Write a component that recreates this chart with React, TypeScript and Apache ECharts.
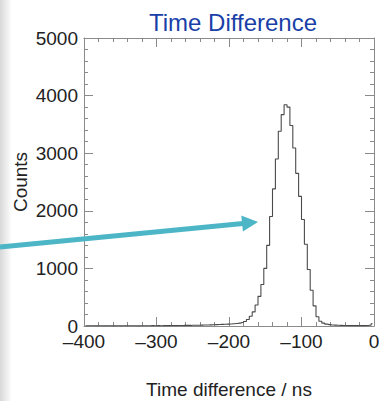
import React, { useEffect, useRef } from "react";
import * as echarts from "echarts";

const titleText = "Time Difference";
const xName = "Time difference / ns";
const yName = "Counts";
const xMin = -400;
const xMax = 0;
const xStep = 100;
const yMin = 0;
const yMax = 5000;
const yStep = 1000;
const binStart = -400;
const binWidth = 4;
const counts = [
  3, 2, 4, 3, 2, 4, 3, 3, 4, 2,
  3, 4, 3, 5, 3, 4, 4, 5, 3, 4,
  5, 4, 5, 6, 5, 6, 5, 7, 6, 7,
  8, 7, 9, 8, 10, 11, 10, 12, 13, 14,
  15, 17, 18, 20, 22, 24, 26,
  28, 30, 33, 36, 40, 44, 50, 60, 78, 112,
  168, 245, 365, 515, 720, 1000, 1400, 1900, 2380, 2900,
  3380, 3670, 3840, 3800, 3480, 3090, 2650, 2250, 1850, 1420,
  980, 620, 350, 160, 82, 50, 33, 24, 18, 15,
  12, 10, 9, 8, 7, 7, 6, 6, 6, 7,
  8, 12, 40,
];

const FONT = "'Liberation Sans', Arial, Helvetica, sans-serif";

export default function App() {
  const ref = useRef<HTMLDivElement>(null);
  useEffect(() => {
    document.body.style.margin = "0";
    const chart = echarts.init(ref.current!, null, { renderer: "svg" });
    const data = counts.map((c, i) => [binStart + binWidth * (i + 0.5), c]);
    const fmt = (v: number) => String(v).replace("-", "\u2013");
    const frame = "#8a8a8a";
    const tickCommon = {
      axisLine: { show: true, onZero: false, lineStyle: { color: frame, width: 1 } },
      axisTick: { show: true, inside: true, length: 9, lineStyle: { color: frame } },
      minorTick: { show: true, splitNumber: 5, length: 4, lineStyle: { color: frame } },
      splitLine: { show: false },
      minorSplitLine: { show: false },
    };
    chart.setOption({
      animation: false,
      backgroundColor: "#ffffff",
      title: {
        text: titleText,
        left: 228,
        top: 5,
        textAlign: "center",
        textStyle: { color: "#1a3fa8", fontSize: 24, fontWeight: "normal", fontFamily: FONT },
      },
      grid: { left: 84, right: 6, top: 38, bottom: 75, containLabel: false, outerBoundsMode: "none" },
      xAxis: [
        {
          type: "value",
          min: xMin,
          max: xMax,
          interval: xStep,
          position: "bottom",
          name: xName,
          nameLocation: "middle",
          nameGap: 54,
          nameMoveOverlap: false,
          nameTextStyle: { color: "#222", fontSize: 19, fontFamily: FONT },
          axisLabel: { color: "#222", fontSize: 19, lineHeight: 12, fontFamily: FONT, margin: 9, formatter: fmt },
          ...tickCommon,
        },
        {
          type: "value",
          min: xMin,
          max: xMax,
          interval: xStep,
          position: "top",
          axisLabel: { show: false },
          ...tickCommon,
        },
      ],
      yAxis: [
        {
          type: "value",
          min: yMin,
          max: yMax,
          interval: yStep,
          position: "left",
          name: yName,
          nameLocation: "middle",
          nameGap: 54,
          nameMoveOverlap: false,
          nameTextStyle: { color: "#222", fontSize: 19, fontFamily: FONT },
          axisLabel: { color: "#222", fontSize: 19, lineHeight: 12, fontFamily: FONT, margin: 6, formatter: (v: number) => String(v) },
          ...tickCommon,
        },
        {
          type: "value",
          min: yMin,
          max: yMax,
          interval: yStep,
          position: "right",
          axisLabel: { show: false },
          ...tickCommon,
        },
      ],
      series: [
        {
          type: "line",
          data,
          step: "middle",
          showSymbol: false,
          symbol: "none",
          lineStyle: { color: "#4a4a4a", width: 1.1 },
          xAxisIndex: 0,
          yAxisIndex: 0,
          z: 3,
        },
      ],
      graphic: [
        {
          type: "rect",
          left: 0,
          top: 0,
          shape: { x: 0, y: 0, width: 12, height: 401 },
          style: {
            fill: new echarts.graphic.LinearGradient(0, 0, 1, 0, [
              { offset: 0, color: "#d8d8d8" },
              { offset: 1, color: "#ffffff" },
            ]),
          },
          z: -1,
        },
        {
          type: "line",
          shape: { x1: 0, y1: 247, x2: 243, y2: 223.6 },
          style: { stroke: "#4cb6c6", lineWidth: 5 },
          z: 10,
        },
        {
          type: "polygon",
          shape: { points: [[258, 222], [242.9, 231.5], [241.3, 215.5]] },
          style: { fill: "#4cb6c6" },
          z: 10,
        },
      ],
    });
    return () => chart.dispose();
  }, []);
  return <div ref={ref} style={{ position: "fixed", left: 0, top: 0, width: 380, height: 401 }} />;
}
